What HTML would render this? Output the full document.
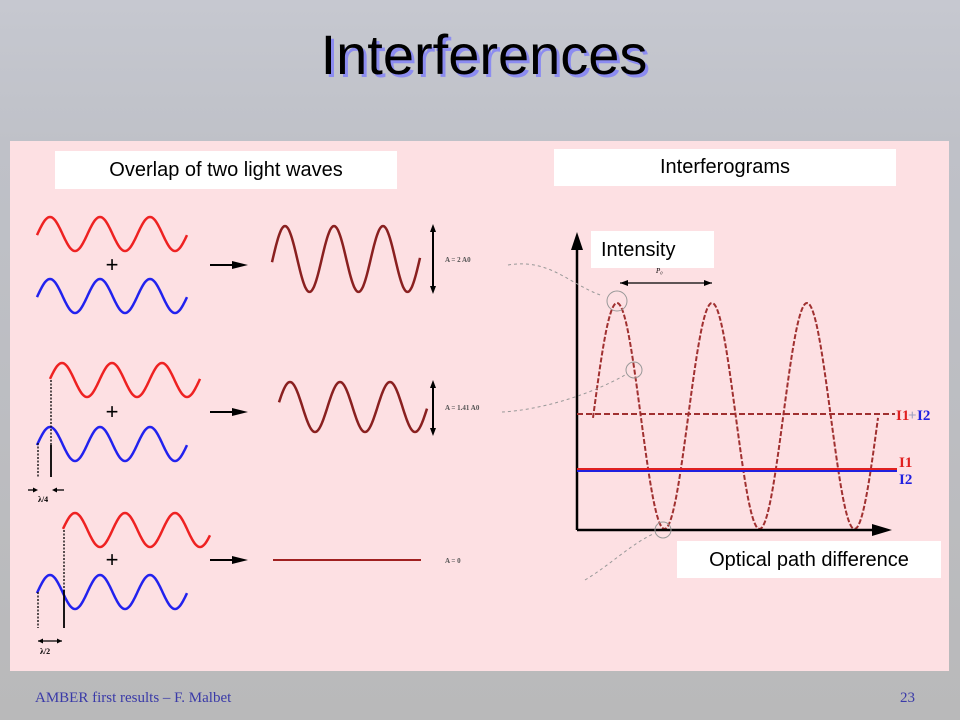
<!DOCTYPE html>
<html><head><meta charset="utf-8"><style>
html,body{margin:0;padding:0;width:960px;height:720px;overflow:hidden}
body{background:linear-gradient(#c6c8d0 0%,#bfc1c8 20%,#b9b9ba 100%);position:relative;font-family:"Liberation Sans",sans-serif}
.title{position:absolute;left:0;width:968px;text-align:center;top:22px;font-size:56px;color:#000;letter-spacing:0px;text-shadow:3px 3px 0 #8c8cf0}
.panel{position:absolute;left:10px;top:141px;width:939px;height:530px;background:#fde0e3}
.box{position:absolute;background:#fff;font-size:20px;color:#000}
.foot{position:absolute;top:690px;font-family:"Liberation Serif",serif;font-size:15px;color:#3a3aa8}
</style></head><body>
<div class="title">Interferences</div>
<div class="panel"></div>
<svg id="s" width="960" height="720" style="position:absolute;left:0;top:0">
<g id="g"></g>
<g font-family="Liberation Sans,sans-serif" font-size="22" text-anchor="middle" fill="#000">
<text x="112" y="272">+</text><text x="112" y="419">+</text><text x="112" y="567">+</text>
</g>
<g stroke="#000" stroke-width="2">
<line x1="210" y1="265" x2="236" y2="265"/><path d="M232,261 L248,265 L232,269z" fill="#000" stroke="none"/>
<line x1="210" y1="412" x2="236" y2="412"/><path d="M232,408 L248,412 L232,416z" fill="#000" stroke="none"/>
<line x1="210" y1="560" x2="236" y2="560"/><path d="M232,556 L248,560 L232,564z" fill="#000" stroke="none"/>
<line x1="433" y1="230" x2="433" y2="288"/><path d="M430,232 L433,224 L436,232z M430,286 L433,294 L436,286z" fill="#000" stroke="none"/>
<line x1="433" y1="386" x2="433" y2="430"/><path d="M430,388 L433,380 L436,388z M430,428 L433,436 L436,428z" fill="#000" stroke="none"/>
</g>
<g font-family="Liberation Serif,serif" font-size="7" fill="#555" font-weight="bold">
<text x="445" y="262">A = 2 A0</text><text x="445" y="410">A = 1.41 A0</text><text x="445" y="563">A = 0</text>
</g>
<line x1="273" y1="560" x2="421" y2="560" stroke="#a02020" stroke-width="2"/>
<g stroke="#000" stroke-width="1.3">
<line x1="38" y1="443" x2="38" y2="477" stroke-dasharray="2,1.5"/>
<line x1="51" y1="380" x2="51" y2="445" stroke-dasharray="2,1.5"/>
<line x1="51" y1="445" x2="51" y2="477" stroke-width="1.8"/>
<line x1="38" y1="592" x2="38" y2="628" stroke-dasharray="2,1.5"/>
<line x1="64" y1="530" x2="64" y2="590" stroke-dasharray="2,1.5"/>
<line x1="64" y1="590" x2="64" y2="628" stroke-width="1.8"/>
<line x1="28" y1="490" x2="36" y2="490"/><line x1="54" y1="490" x2="64" y2="490"/>
<line x1="38" y1="641" x2="62" y2="641"/>
</g>
<path d="M38,490 l-5,-2.5 v5z M52,490 l5,-2.5 v5z M38,641 l5,-2.5 v5z M62,641 l-5,-2.5 v5z" fill="#000"/>
<g font-family="Liberation Serif,serif" font-size="8" font-weight="bold" fill="#000"><text x="38" y="502">λ/4</text><text x="40" y="654">λ/2</text></g>
<g stroke="#000" stroke-width="2.5">
<line x1="577" y1="245" x2="577" y2="530"/><line x1="577" y1="530" x2="875" y2="530"/>
</g>
<path d="M571,250 L577,232 L583,250z M872,524 L892,530 L872,536z" fill="#000"/>
<line x1="620" y1="283" x2="712" y2="283" stroke="#000" stroke-width="1.3"/>
<path d="M620,283 l8,-3 v6z M712,283 l-8,-3 v6z" fill="#000"/>
<text x="656" y="273" font-size="7" font-style="italic" font-family="Liberation Serif,serif">P₀</text>
<line x1="577" y1="414" x2="895" y2="414" stroke="#a03030" stroke-width="2" stroke-dasharray="6,3"/>
<line x1="577" y1="469" x2="897" y2="469" stroke="#e02020" stroke-width="2"/>
<line x1="577" y1="471" x2="897" y2="471" stroke="#2020e0" stroke-width="2"/>
<g font-family="Liberation Serif,serif" font-size="15" font-weight="bold">
<text x="896" y="420" fill="#e02020">I1</text><text x="908" y="420" fill="#a0a0c0">+</text><text x="917" y="420" fill="#2020e0">I2</text>
<text x="899" y="467" fill="#e02020">I1</text><text x="899" y="484" fill="#2020e0">I2</text>
</g>
<g fill="none" stroke="#999" stroke-width="1">
<circle cx="617" cy="301" r="10"/><circle cx="634" cy="370" r="8"/><circle cx="663" cy="530" r="8"/>
<g stroke-dasharray="3,3"><path d="M508,265 C550,258 570,285 603,296"/><path d="M502,412 C540,410 590,395 625,375"/><path d="M585,580 C610,565 630,545 653,534"/></g>
</g>
</svg>
<div class="box" style="left:55px;top:151px;width:342px;height:38px;line-height:38px;text-align:center">Overlap of two light waves</div>
<div class="box" style="left:554px;top:149px;width:342px;height:37px;line-height:36px;text-align:center">Interferograms</div>
<div class="box" style="left:591px;top:231px;width:123px;height:37px;line-height:38px;padding-left:10px;box-sizing:border-box">Intensity</div>
<div class="box" style="left:677px;top:541px;width:264px;height:37px;line-height:38px;text-align:center">Optical path difference</div>
<div class="foot" style="left:35px">AMBER first results – F. Malbet</div>
<div class="foot" style="left:900px">23</div>
<script>
function wave(x0,x1,cy,amp,period,peakX,color,w,dash){
  var d="";for(var x=x0;x<=x1;x+=1){var y=cy-amp*Math.cos(2*Math.PI*(x-peakX)/period);d+=(x==x0?"M":"L")+x+","+y.toFixed(1);}
  var p=document.createElementNS("http://www.w3.org/2000/svg","path");
  p.setAttribute("d",d);p.setAttribute("fill","none");p.setAttribute("stroke",color);p.setAttribute("stroke-width",w);
  if(dash)p.setAttribute("stroke-dasharray",dash);
  document.getElementById("g").appendChild(p);
}
wave(37,187,234,17,50,50,"#ee2222",2.5);
wave(37,187,296,17,50,50,"#2222ee",2.5);
wave(272,420,259,33,49,285,"#8a2020",2.5);
wave(50,200,380,17,50,62,"#ee2222",2.5);
wave(37,187,444,17,50,50,"#2222ee",2.5);
wave(279,427,407,25,50,290,"#8a2020",2.5);
wave(63,210,530,17,50,75,"#ee2222",2.5);
wave(37,187,592,17,50,50,"#2222ee",2.5);
wave(593,878,416,113,95,617,"#a03030",2,"5,2");
</script>
</body></html>
